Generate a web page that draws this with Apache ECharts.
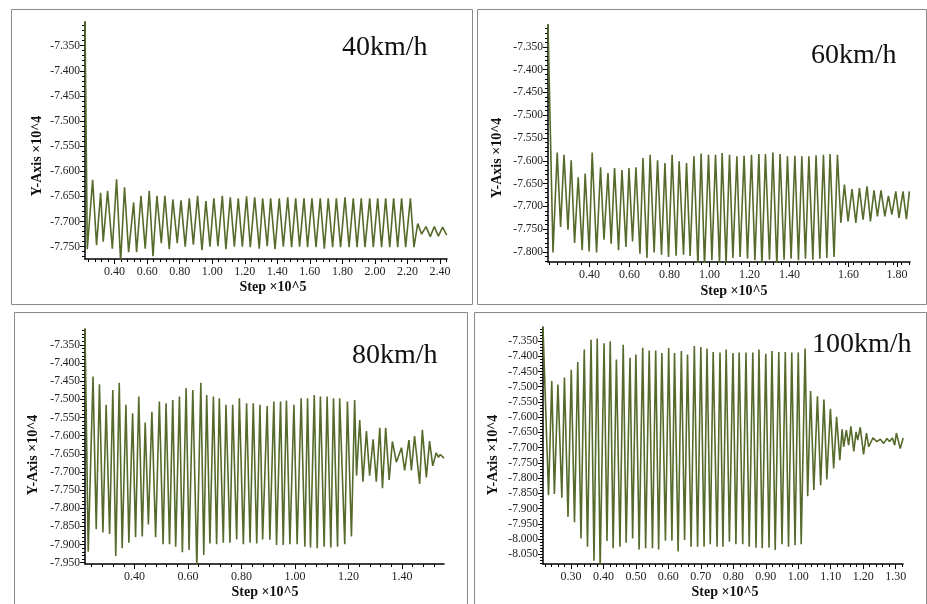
<!DOCTYPE html>
<html>
<head>
<meta charset="utf-8">
<script src="https://cdn.jsdelivr.net/npm/echarts@6/dist/echarts.min.js"></script>
<style>
  html, body { margin: 0; padding: 0; background: #ffffff; }
  #chart { width: 927px; height: 604px; }
</style>
</head>
<body>
<div id="chart"></div>
<script>
// ---- 40 km/h ----
const step40 = [0.218,0.232,0.265,0.289,0.314,0.330,0.357,0.386,0.412,0.437,0.461,0.486,0.517,0.535,0.562,0.588,0.613,0.636,0.660,0.687,0.709,0.736,0.758,0.785,0.808,0.834,0.859,0.884,0.910,0.937,0.961,0.986,1.010,1.035,1.062,1.084,1.111,1.136,1.160,1.185,1.211,1.234,1.261,1.289,1.310,1.338,1.359,1.386,1.412,1.437,1.464,1.488,1.513,1.537,1.564,1.586,1.613,1.638,1.664,1.689,1.713,1.740,1.763,1.789,1.816,1.841,1.867,1.890,1.916,1.939,1.968,1.990,2.017,2.041,2.066,2.091,2.115,2.140,2.164,2.189,2.218,2.240,2.263,2.287,2.314,2.340,2.365,2.390,2.416,2.441];
const load40 = [-7.300,-7.755,-7.617,-7.747,-7.643,-7.740,-7.639,-7.754,-7.616,-7.780,-7.632,-7.761,-7.662,-7.761,-7.649,-7.754,-7.639,-7.769,-7.649,-7.743,-7.649,-7.755,-7.656,-7.743,-7.658,-7.750,-7.654,-7.746,-7.649,-7.757,-7.659,-7.750,-7.654,-7.749,-7.649,-7.755,-7.652,-7.750,-7.654,-7.750,-7.650,-7.751,-7.652,-7.754,-7.654,-7.749,-7.654,-7.755,-7.654,-7.750,-7.652,-7.751,-7.654,-7.750,-7.654,-7.751,-7.654,-7.751,-7.654,-7.754,-7.654,-7.751,-7.654,-7.751,-7.652,-7.751,-7.654,-7.751,-7.654,-7.751,-7.654,-7.751,-7.654,-7.751,-7.654,-7.751,-7.654,-7.751,-7.654,-7.751,-7.654,-7.751,-7.704,-7.725,-7.710,-7.730,-7.710,-7.729,-7.711,-7.727];

// ---- 60 km/h ----
const step60 = [0.192,0.217,0.238,0.255,0.272,0.292,0.308,0.325,0.343,0.363,0.378,0.398,0.413,0.435,0.455,0.472,0.492,0.508,0.525,0.545,0.562,0.582,0.597,0.615,0.632,0.652,0.667,0.687,0.703,0.723,0.740,0.760,0.777,0.795,0.813,0.833,0.848,0.870,0.885,0.903,0.922,0.942,0.958,0.975,0.995,1.012,1.030,1.050,1.063,1.083,1.100,1.117,1.137,1.153,1.173,1.190,1.210,1.227,1.247,1.262,1.280,1.300,1.317,1.337,1.353,1.373,1.390,1.408,1.427,1.445,1.462,1.480,1.497,1.517,1.533,1.552,1.570,1.587,1.603,1.623,1.640,1.657,1.675,1.693,1.713,1.732,1.750,1.768,1.788,1.805,1.823,1.840,1.858,1.877,1.895,1.912,1.932,1.948,1.968,1.985,2.000];
const load60 = [-7.300,-7.801,-7.582,-7.745,-7.587,-7.751,-7.599,-7.780,-7.636,-7.796,-7.628,-7.799,-7.582,-7.801,-7.614,-7.773,-7.627,-7.782,-7.616,-7.796,-7.620,-7.789,-7.616,-7.777,-7.614,-7.804,-7.594,-7.813,-7.587,-7.801,-7.599,-7.806,-7.605,-7.811,-7.587,-7.808,-7.601,-7.806,-7.605,-7.809,-7.590,-7.830,-7.584,-7.830,-7.587,-7.818,-7.587,-7.825,-7.583,-7.825,-7.587,-7.813,-7.590,-7.811,-7.589,-7.815,-7.587,-7.818,-7.585,-7.830,-7.585,-7.817,-7.582,-7.830,-7.585,-7.817,-7.590,-7.815,-7.589,-7.818,-7.590,-7.815,-7.590,-7.817,-7.588,-7.815,-7.587,-7.813,-7.585,-7.811,-7.587,-7.736,-7.652,-7.733,-7.662,-7.736,-7.660,-7.729,-7.656,-7.733,-7.665,-7.722,-7.665,-7.722,-7.677,-7.718,-7.667,-7.725,-7.667,-7.728,-7.667];

// ---- 80 km/h ----
const step80 = [0.215,0.227,0.245,0.257,0.269,0.282,0.294,0.307,0.319,0.330,0.343,0.354,0.368,0.379,0.393,0.404,0.416,0.429,0.440,0.452,0.465,0.479,0.493,0.507,0.518,0.531,0.543,0.554,0.568,0.579,0.593,0.604,0.618,0.633,0.648,0.659,0.670,0.682,0.695,0.707,0.717,0.732,0.742,0.757,0.767,0.782,0.792,0.807,0.819,0.832,0.844,0.857,0.869,0.879,0.896,0.906,0.921,0.931,0.946,0.956,0.968,0.981,0.996,1.008,1.023,1.037,1.047,1.058,1.072,1.083,1.095,1.109,1.120,1.134,1.144,1.159,1.167,1.186,1.196,1.211,1.223,1.230,1.242,1.254,1.267,1.279,1.292,1.304,1.317,1.327,1.339,1.352,1.364,1.379,1.398,1.410,1.426,1.435,1.447,1.466,1.476,1.491,1.503,1.515,1.528,1.536,1.543,1.557];
const load80 = [-7.306,-7.920,-7.437,-7.858,-7.458,-7.867,-7.515,-7.871,-7.474,-7.932,-7.454,-7.910,-7.515,-7.895,-7.538,-7.880,-7.492,-7.878,-7.564,-7.845,-7.534,-7.880,-7.506,-7.899,-7.511,-7.899,-7.502,-7.906,-7.492,-7.921,-7.469,-7.915,-7.474,-7.960,-7.454,-7.929,-7.488,-7.897,-7.492,-7.899,-7.497,-7.895,-7.515,-7.895,-7.515,-7.886,-7.497,-7.899,-7.511,-7.895,-7.511,-7.897,-7.515,-7.886,-7.518,-7.887,-7.506,-7.901,-7.506,-7.901,-7.503,-7.899,-7.515,-7.899,-7.497,-7.906,-7.497,-7.908,-7.488,-7.910,-7.492,-7.906,-7.492,-7.908,-7.497,-7.906,-7.497,-7.899,-7.506,-7.878,-7.502,-7.710,-7.557,-7.727,-7.587,-7.710,-7.610,-7.727,-7.578,-7.745,-7.578,-7.722,-7.616,-7.673,-7.633,-7.696,-7.612,-7.696,-7.601,-7.733,-7.584,-7.715,-7.615,-7.683,-7.647,-7.660,-7.652,-7.662];

// ---- 100 km/h ----
const step100 = [0.214,0.231,0.241,0.249,0.260,0.272,0.280,0.291,0.301,0.311,0.321,0.331,0.341,0.351,0.362,0.371,0.381,0.390,0.402,0.411,0.421,0.430,0.440,0.451,0.461,0.470,0.482,0.490,0.500,0.510,0.521,0.530,0.541,0.551,0.561,0.570,0.580,0.591,0.601,0.611,0.619,0.630,0.640,0.650,0.659,0.670,0.680,0.690,0.700,0.710,0.719,0.729,0.738,0.750,0.759,0.768,0.778,0.788,0.799,0.808,0.818,0.829,0.839,0.849,0.860,0.870,0.879,0.889,0.900,0.910,0.919,0.929,0.940,0.950,0.960,0.970,0.980,0.990,1.000,1.009,1.021,1.029,1.038,1.048,1.059,1.069,1.079,1.088,1.099,1.109,1.118,1.128,1.135,1.140,1.148,1.155,1.162,1.171,1.178,1.183,1.191,1.201,1.210,1.217,1.230,1.242,1.253,1.263,1.273,1.281,1.290,1.297,1.302,1.314,1.323];
const load100 = [-7.304,-7.856,-7.481,-7.852,-7.493,-7.864,-7.470,-7.927,-7.444,-7.945,-7.419,-7.998,-7.378,-8.025,-7.346,-8.071,-7.342,-8.095,-7.357,-8.006,-7.351,-8.030,-7.411,-8.025,-7.362,-8.012,-7.405,-7.998,-7.394,-8.034,-7.372,-8.030,-7.381,-8.030,-7.381,-8.034,-7.389,-8.005,-7.373,-8.005,-7.389,-8.041,-7.383,-8.003,-7.394,-8.025,-7.366,-8.025,-7.370,-8.025,-7.375,-8.017,-7.386,-8.025,-7.388,-8.025,-7.378,-8.009,-7.389,-8.017,-7.388,-8.017,-7.388,-8.025,-7.388,-8.028,-7.378,-8.030,-7.392,-8.028,-7.383,-8.036,-7.386,-8.017,-7.386,-8.025,-7.388,-8.020,-7.388,-8.017,-7.375,-7.859,-7.514,-7.839,-7.531,-7.823,-7.542,-7.804,-7.572,-7.768,-7.599,-7.741,-7.640,-7.697,-7.642,-7.692,-7.630,-7.712,-7.648,-7.675,-7.633,-7.722,-7.652,-7.697,-7.668,-7.680,-7.672,-7.686,-7.670,-7.680,-7.668,-7.692,-7.652,-7.703,-7.668];

// ---- tick labels: where each sits on the step axis, and what it reads ----
const xTickPos40 = [0.40,0.60,0.80,1.00,1.20,1.40,1.60,1.80,2.00,2.20,2.40];
const xTickText40 = ['0.40','0.60','0.80','1.00','1.20','1.40','1.60','1.80','2.00','2.20','2.40'];
const xTickPos60 = [0.40,0.60,0.80,1.00,1.20,1.40,1.695,1.938];
const xTickText60 = ['0.40','0.60','0.80','1.00','1.20','1.40','1.60','1.80'];
const xTickPos80 = [0.40,0.60,0.80,1.00,1.20,1.40];
const xTickText80 = ['0.40','0.60','0.80','1.00','1.20','1.40'];
const xTickPos100 = [0.30,0.40,0.50,0.60,0.70,0.80,0.90,1.00,1.10,1.20,1.30];
const xTickText100 = ['0.30','0.40','0.50','0.60','0.70','0.80','0.90','1.00','1.10','1.20','1.30'];
const yLabels40 = [-7.35,-7.40,-7.45,-7.50,-7.55,-7.60,-7.65,-7.70,-7.75];
const yLabels60 = [-7.35,-7.40,-7.45,-7.50,-7.55,-7.60,-7.65,-7.70,-7.75,-7.80];
const yLabels80 = [-7.35,-7.40,-7.45,-7.50,-7.55,-7.60,-7.65,-7.70,-7.75,-7.80,-7.85,-7.90,-7.95];
const yLabels100 = [-7.35,-7.40,-7.45,-7.50,-7.55,-7.60,-7.65,-7.70,-7.75,-7.80,-7.85,-7.90,-7.95,-8.00,-8.05];

const speedNames = ['40km/h', '60km/h', '80km/h', '100km/h'];
const xName = 'Step \u00d710^5';
const yName = 'Y-Axis \u00d710^4';

// ---- layout of the four panels ----
const panels = [
  { step: step40, load: load40, xp: xTickPos40, xt: xTickText40, yl: yLabels40, xMinor: 0.04, yMinor: 0.01,
    grid: { left: 85, top: 22, width: 362, height: 237 }, xr: [0.218, 2.443], yr: [-7.7745, -7.303],
    box: [11, 9, 461, 295], title: [342, 48], yNamePos: [37, 156], xNamePos: [273, 287] },
  { step: step60, load: load60, xp: xTickPos60, xt: xTickText60, yl: yLabels60, xMinor: 0.04, yMinor: 0.01,
    grid: { left: 548, top: 25, width: 362, height: 237 }, xr: [0.192, 2.003], yr: [-7.822, -7.302],
    box: [477, 9, 449, 295], title: [811, 56], yNamePos: [497, 158], xNamePos: [734, 291] },
  { step: step80, load: load80, xp: xTickPos80, xt: xTickText80, yl: yLabels80, xMinor: 0.04, yMinor: 0.01,
    grid: { left: 85, top: 329, width: 359, height: 235 }, xr: [0.215, 1.557], yr: [-7.9537, -7.306],
    box: [14, 312, 453, 300], title: [352, 356], yNamePos: [33, 455], xNamePos: [265, 592] },
  { step: step100, load: load100, xp: xTickPos100, xt: xTickText100, yl: yLabels100, xMinor: 0.02, yMinor: 0.01,
    grid: { left: 543, top: 327, width: 360, height: 237 }, xr: [0.214, 1.3225], yr: [-8.0817, -7.304],
    box: [474, 312, 452, 300], title: [812, 345], yNamePos: [493, 455], xNamePos: [725, 592] }
];

const lineColor = '#566b2b';
const serif = '"Liberation Serif", "DejaVu Serif", serif';

function minorValues(lo, hi, step) {
  const out = [];
  const start = Math.ceil(lo / step - 1e-6);
  const end = Math.floor(hi / step + 1e-6);
  for (let k = start; k <= end; k++) out.push(+(k * step).toFixed(4));
  return out;
}

const grids = [], xAxes = [], yAxes = [], series = [], graphics = [];

panels.forEach((p, i) => {
  grids.push(Object.assign({ containLabel: false }, p.grid));
  // main x axis with labelled ticks
  xAxes.push({
    type: 'value', gridIndex: i, min: p.xr[0], max: p.xr[1], position: 'bottom',
    axisLine: { show: true, onZero: false, lineStyle: { color: '#000', width: 1.5 } },
    axisTick: { show: true, customValues: p.xp, length: 5, lineStyle: { color: '#000', width: 1 } },
    axisLabel: { show: true, customValues: p.xp, formatter: v => p.xt[p.xp.indexOf(v)] ?? '', margin: 7,
      fontFamily: serif, fontSize: 12, color: '#222' },
    splitLine: { show: false }
  });
  // minor x ticks
  xAxes.push({
    type: 'value', gridIndex: i, min: p.xr[0], max: p.xr[1], position: 'bottom',
    axisLine: { show: false, onZero: false },
    axisTick: { show: true, customValues: minorValues(p.xr[0], p.xr[1], p.xMinor), length: 3, lineStyle: { color: '#000', width: 1 } },
    axisLabel: { show: false }, splitLine: { show: false }
  });
  yAxes.push({
    type: 'value', gridIndex: i, min: p.yr[0], max: p.yr[1], position: 'left',
    axisLine: { show: true, onZero: false, lineStyle: { color: '#000', width: 1.5 } },
    axisTick: { show: true, customValues: p.yl, length: 5, lineStyle: { color: '#000', width: 1 } },
    axisLabel: { show: true, customValues: p.yl, formatter: v => v.toFixed(3), margin: 5,
      fontFamily: serif, fontSize: 11.5, color: '#222' },
    splitLine: { show: false }
  });
  yAxes.push({
    type: 'value', gridIndex: i, min: p.yr[0], max: p.yr[1], position: 'left',
    axisLine: { show: false, onZero: false },
    axisTick: { show: true, customValues: minorValues(p.yr[0], p.yr[1], p.yMinor), length: 3, lineStyle: { color: '#000', width: 1 } },
    axisLabel: { show: false }, splitLine: { show: false }
  });
  series.push({
    type: 'line', xAxisIndex: 2 * i, yAxisIndex: 2 * i,
    data: p.step.map((s, k) => [s, p.load[k]]),
    showSymbol: false, symbol: 'none', clip: true, animation: false,
    lineStyle: { color: lineColor, width: 1.6 }
  });
  graphics.push({
    type: 'rect', shape: { x: p.box[0] + 0.5, y: p.box[1] + 0.5, width: p.box[2], height: p.box[3] },
    style: { fill: 'none', stroke: '#8a8a8a', lineWidth: 1 }, silent: true
  });
  graphics.push({
    type: 'text', x: p.title[0], y: p.title[1],
    style: { text: speedNames[i], font: '28px ' + serif, fill: '#111', textAlign: 'left', textVerticalAlign: 'middle' }
  });
  graphics.push({
    type: 'text', x: p.yNamePos[0], y: p.yNamePos[1], rotation: Math.PI / 2,
    style: { text: yName, font: 'bold 14px ' + serif, fill: '#111', textAlign: 'center', textVerticalAlign: 'middle' }
  });
  graphics.push({
    type: 'text', x: p.xNamePos[0], y: p.xNamePos[1],
    style: { text: xName, font: 'bold 14px ' + serif, fill: '#111', textAlign: 'center', textVerticalAlign: 'middle' }
  });
});

const chart = echarts.init(document.getElementById('chart'), null, { renderer: 'canvas' });
chart.setOption({
  backgroundColor: '#ffffff',
  animation: false,
  grid: grids,
  xAxis: xAxes,
  yAxis: yAxes,
  series: series,
  graphic: graphics
});
</script>
</body>
</html>
